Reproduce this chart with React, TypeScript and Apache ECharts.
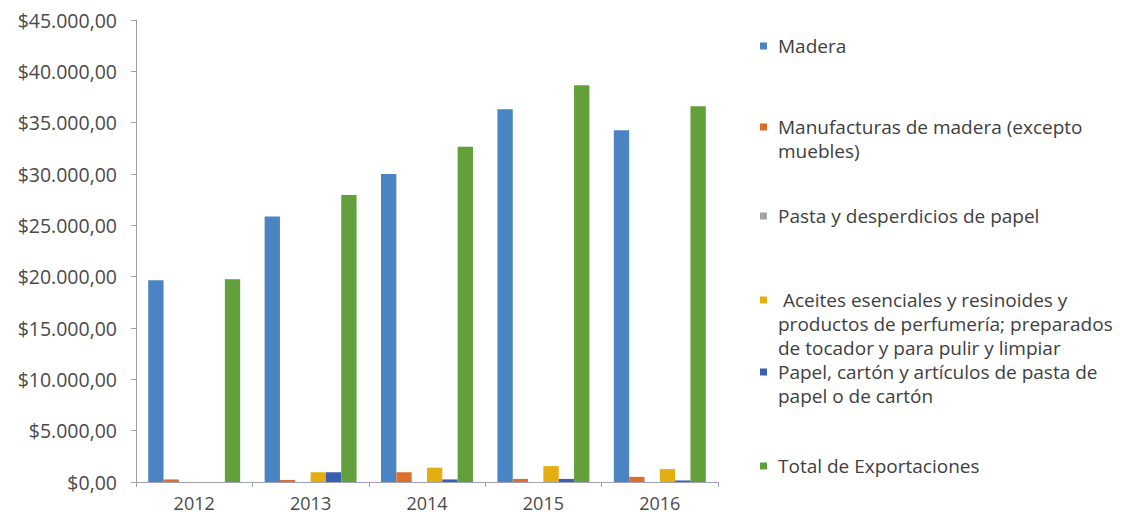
import React, { useEffect, useRef } from "react";
import * as echarts from "echarts";

const categories = ["2012", "2013", "2014", "2015", "2016"];
const seriesNames = [
  "Madera",
  "Manufacturas de madera (excepto muebles)",
  "Pasta y desperdicios de papel",
  " Aceites esenciales y resinoides y productos de perfumería; preparados de tocador y para pulir y limpiar",
  "Papel, cartón y artículos de pasta de papel o de cartón",
  "Total de Exportaciones",
];
const legendLines = [
  ["Madera"],
  ["Manufacturas de madera (excepto", "muebles)"],
  ["Pasta y desperdicios de papel"],
  [" Aceites esenciales y resinoides y", "productos de perfumería; preparados", "de tocador y para pulir y limpiar"],
  ["Papel, cartón y artículos de pasta de", "papel o de cartón"],
  ["Total de Exportaciones"],
];
const madera = [19650, 25850, 30000, 36300, 34250];
const manufacturas = [250, 200, 950, 300, 500];
const pasta = [0, 0, 0, 0, 0];
const aceites = [0, 950, 1400, 1550, 1250];
const papel = [0, 950, 250, 300, 150];
const total = [19750, 27950, 32650, 38650, 36600];
const seriesData = [madera, manufacturas, pasta, aceites, papel, total];
const colors = ["#4A84C2", "#DD6F2C", "#A5A5A5", "#E3AE12", "#3A5FB0", "#62A03C"];

const legendFirstLineY = [46, 127, 216, 300, 372, 466];

const FONT = "Open Sans";
const LINE_H = 24;

function fmtMoney(v: number): string {
  const s = Math.round(v).toString().replace(/\B(?=(\d{3})+(?!\d))/g, ".");
  return "$" + s + ",00";
}

export default function App() {
  const ref = useRef<HTMLDivElement>(null);
  useEffect(() => {
    if (!ref.current) return;
    const chart = echarts.init(ref.current, undefined, { renderer: "svg" });
    const legends = seriesNames.map((name, i) => {
      const n = legendLines[i].length;
      const blanks = new Array(n - 1).fill(" ");
      return {
        data: [name],
        left: 760,
        top: legendFirstLineY[i] - (2 * n - 1) * (LINE_H / 2),
        orient: "vertical",
        padding: 0,
        icon: "rect",
        itemWidth: 7,
        itemHeight: 7,
        selectedMode: false,
        formatter: () => blanks.concat(legendLines[i]).join("\n"),
        textStyle: {
          fontFamily: FONT,
          fontSize: 19,
          color: "#404040",
          lineHeight: LINE_H,
          padding: [0, 0, 0, 6],
        },
      };
    });
    chart.setOption({
      animation: false,
      backgroundColor: "#ffffff",
      grid: { left: 136, right: 1131 - 718, top: 20, bottom: 519 - 482, containLabel: false },
      legend: legends,
      xAxis: {
        type: "category",
        data: categories,
        axisLine: { lineStyle: { color: "#A0A0B8", width: 1 } },
        axisTick: { show: true, length: 5, lineStyle: { color: "#A0A0B8" } },
        axisLabel: { fontFamily: FONT, fontSize: 18, color: "#4A4A4A", margin: 12 },
      },
      yAxis: {
        type: "value",
        min: 0,
        max: 45000,
        interval: 5000,
        splitLine: { show: false },
        axisLine: { show: true, lineStyle: { color: "#A0A0A0", width: 1 } },
        axisTick: { show: true, length: 5, lineStyle: { color: "#A0A0A0" } },
        axisLabel: {
          fontFamily: FONT,
          fontSize: 19.5,
          color: "#4A4A4A",
          margin: 19,
          formatter: (v: number) => fmtMoney(v),
        },
      },
      series: seriesNames.map((name, i) => ({
        name,
        type: "bar",
        data: seriesData[i],
        barGap: "0%",
        barCategoryGap: "21%",
        itemStyle: { color: colors[i] },
      })),
    });
    return () => chart.dispose();
  }, []);
  return (
    <div
      ref={ref}
      style={{ position: "fixed", left: 0, top: 0, width: 1131, height: 519 }}
    />
  );
}
